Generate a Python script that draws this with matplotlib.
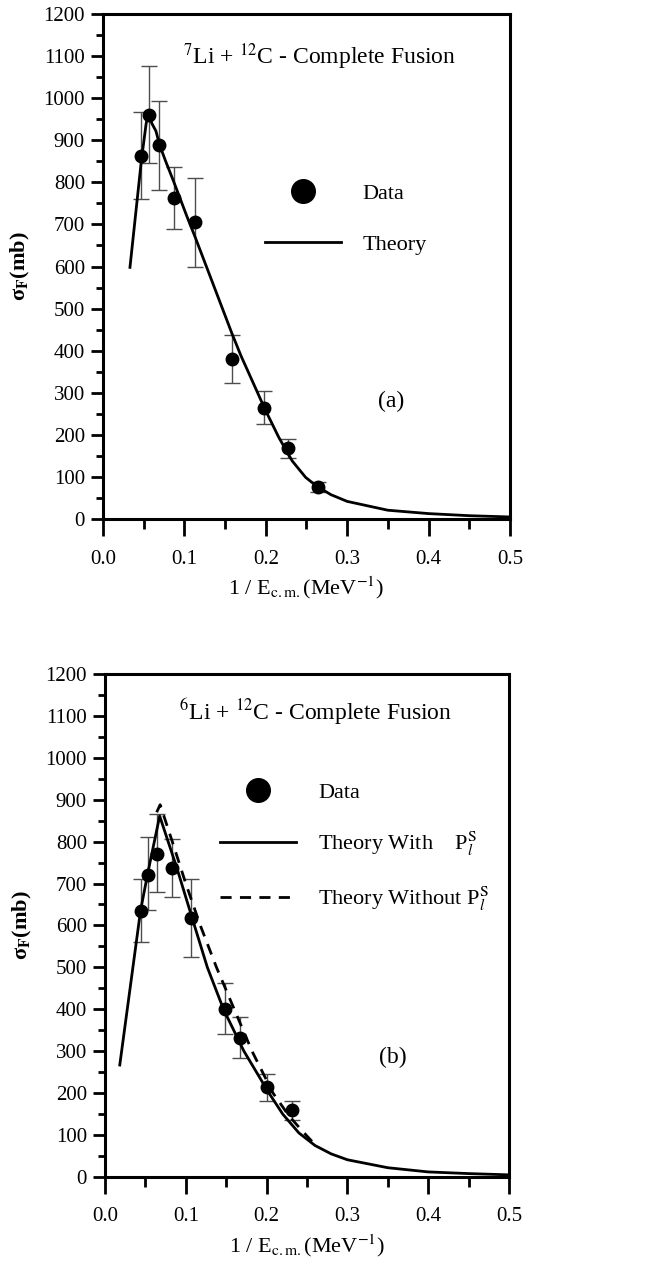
import matplotlib
matplotlib.use("Agg")
import matplotlib.pyplot as plt
from matplotlib.lines import Line2D
from matplotlib.ticker import MultipleLocator, FormatStrFormatter

plt.rcParams['font.family'] = ['Liberation Serif', 'DejaVu Serif']
plt.rcParams['mathtext.fontset'] = 'stix'

# panel (a): 7Li + 12C
x_a = [0.047, 0.0563, 0.0685, 0.0877, 0.1132, 0.1586, 0.198, 0.2268, 0.264]
y_a = [863, 960, 889, 764, 705, 381, 265, 168, 75]
y_a_hi = [967, 1076, 994, 836, 810, 437, 304, 191, 87]
y_a_lo = [760, 847, 783, 690, 600, 324, 227, 144, 65]

th_a_x = [0.0331, 0.047, 0.053, 0.0563, 0.060, 0.065, 0.0695, 0.077, 0.0868,
          0.1033, 0.1132, 0.13, 0.1586, 0.1695, 0.183, 0.199, 0.216,
          0.2325, 0.249, 0.262, 0.28, 0.3, 0.35, 0.4, 0.45, 0.5]
th_a_y = [598, 850, 940, 964, 940, 922, 889, 850, 802,
          718, 670, 585, 440, 388, 330, 261, 194,
          138, 99, 79, 58, 42, 21, 13, 8, 5]

# panel (b): 6Li + 12C
x_b = [0.0443, 0.0527, 0.0643, 0.0827, 0.1067, 0.149, 0.1667, 0.200, 0.2317]
y_b = [635, 721, 771, 737, 617, 401, 332, 214, 159]
y_b_hi = [711, 810, 866, 805, 711, 462, 382, 245, 182]
y_b_lo = [560, 637, 679, 668, 524, 341, 283, 181, 135]

with_x = [0.0183, 0.044, 0.053, 0.0677, 0.089, 0.108, 0.1267, 0.1467, 0.172,
          0.203, 0.22, 0.24, 0.26, 0.28, 0.3, 0.35, 0.4, 0.45, 0.5]
with_y = [267, 635, 725, 861, 737, 617, 500, 400, 300,
          200, 150, 105, 75, 55, 41, 22, 12, 8, 5]

without_x = [0.064, 0.0683, 0.0833, 0.100, 0.118, 0.138, 0.160, 0.182, 0.208,
             0.228, 0.245, 0.26]
without_y = [870, 888, 800, 700, 600, 500, 400, 300, 200, 145, 108, 77]

fig = plt.figure(figsize=(6.5, 12.62), dpi=100)
ax1 = fig.add_axes([0.1585, 0.5887, 0.626, 0.4002])
ax2 = fig.add_axes([0.1615, 0.0674, 0.6215, 0.3986])


def style_axes(ax):
    ax.set_xlim(0, 0.5)
    ax.set_ylim(0, 1200)
    ax.xaxis.set_major_locator(MultipleLocator(0.1))
    ax.xaxis.set_minor_locator(MultipleLocator(0.05))
    ax.yaxis.set_major_locator(MultipleLocator(100))
    ax.yaxis.set_minor_locator(MultipleLocator(50))
    ax.xaxis.set_major_formatter(FormatStrFormatter('%.1f'))
    for s in ax.spines.values():
        s.set_linewidth(2.2)
    ax.tick_params(axis='y', which='major', direction='out', length=9, width=2, labelsize=15, pad=4)
    ax.tick_params(axis='y', which='minor', direction='out', length=5, width=2)
    ax.tick_params(axis='x', which='major', direction='out', length=12, width=2, labelsize=15, pad=10)
    ax.tick_params(axis='x', which='minor', direction='out', length=7, width=2)
    ax.set_xlabel(r"1 / E$_{\rm c.m.}$(MeV$^{-1}$)", fontsize=16, labelpad=4)
    ax.set_ylabel(r"σ$_{\mathbf{F}}$(mb)", fontsize=16, fontweight='bold', labelpad=8)


def draw_points(ax, x, y, lo, hi):
    err = [[yy - l for yy, l in zip(y, lo)], [h - yy for yy, h in zip(y, hi)]]
    ax.errorbar(x, y, yerr=err, fmt='none', ecolor='0.3', elinewidth=1,
                capsize=6, capthick=1, zorder=2)
    ax.plot(x, y, 'o', color='black', markersize=9, zorder=4)


style_axes(ax1)
draw_points(ax1, x_a, y_a, y_a_lo, y_a_hi)
ax1.plot(th_a_x, th_a_y, color='black', lw=2, zorder=3, solid_joinstyle='round')
ax1.text(0.533, 0.915, r"$^{7}$Li + $^{12}$C - Complete Fusion", transform=ax1.transAxes,
         ha='center', va='center', fontsize=17)
ax1.text(0.708, 0.232, "(a)", transform=ax1.transAxes, ha='center', va='center', fontsize=17)
h_data = Line2D([], [], ls='none', marker='o', color='black', markersize=17)
h_th = Line2D([], [], color='black', lw=2)
ax1.legend([h_data, h_th], ["Data", "Theory"], loc='upper left',
           bbox_to_anchor=(0.398, 0.664), frameon=False, fontsize=16,
           handlelength=3.4, handletextpad=1.0, labelspacing=1.35,
           borderpad=0, borderaxespad=0)

style_axes(ax2)
draw_points(ax2, x_b, y_b, y_b_lo, y_b_hi)
ax2.plot(with_x, with_y, color='black', lw=2, zorder=3, solid_joinstyle='round')
ax2.plot(without_x, without_y, color='black', lw=2, ls=(0, (4, 3)), zorder=3)
ax2.text(0.52, 0.924, r"$^{6}$Li + $^{12}$C - Complete Fusion", transform=ax2.transAxes,
         ha='center', va='center', fontsize=17)
ax2.text(0.713, 0.237, "(b)", transform=ax2.transAxes, ha='center', va='center', fontsize=17)
h_dash = Line2D([], [], color='black', lw=2, ls=(0, (4, 3)))
ax2.legend([h_data, h_th, h_dash],
           ["Data", r"Theory With    P$_{l}^{\rm S}$", r"Theory Without P$_{l}^{\rm S}$"],
           loc='upper left', bbox_to_anchor=(0.285, 0.784), frameon=False, fontsize=16,
           handlelength=3.4, handletextpad=1.0, labelspacing=1.2,
           borderpad=0, borderaxespad=0)

fig.savefig("out.png", dpi=100)
